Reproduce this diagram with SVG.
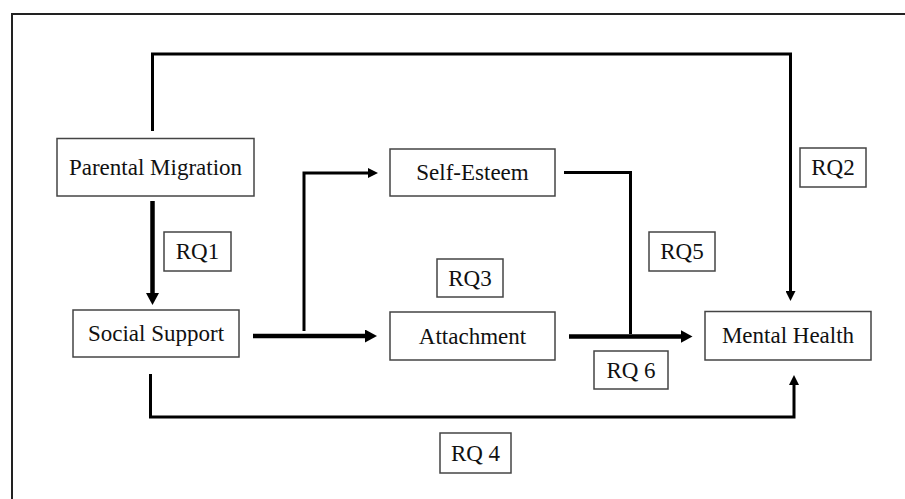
<svg xmlns="http://www.w3.org/2000/svg" width="905" height="499" viewBox="0 0 905 499">
  <style>
    .box { fill: #ffffff; stroke: #444444; stroke-width: 1.5; }
    .lbl { font-family: "Liberation Serif", "Times New Roman", serif; font-size: 23px; fill: #111111; text-anchor: middle; dominant-baseline: central; }
    .ln { fill: none; stroke: #000000; stroke-linejoin: miter; stroke-linecap: butt; }
    .thin { stroke-width: 3; }
    .thick { stroke-width: 4.5; }
    .frame { fill: none; stroke: #222222; stroke-width: 2; }
  </style>
  <defs>
    <marker id="arrS" viewBox="0 0 10 10" refX="1" refY="5" markerWidth="10" markerHeight="10" markerUnits="userSpaceOnUse" orient="auto">
      <path d="M0,0 L10,5 L0,10 z" fill="#000"/>
    </marker>
    <marker id="arrL" viewBox="0 0 12 13" refX="1" refY="6.5" markerWidth="12" markerHeight="13" markerUnits="userSpaceOnUse" orient="auto">
      <path d="M0,0 L12,6.5 L0,13 z" fill="#000"/>
    </marker>
  </defs>
  <rect width="905" height="499" fill="#ffffff"/>
  <path class="frame" d="M12,499 V14 H905"/>

  <g id="connectors">
    <path class="ln thin" d="M152.5,131 V54 H790.5 V292" marker-end="url(#arrS)"/>
    <path class="ln thick" d="M152.5,201 V294" marker-end="url(#arrL)"/>
    <path class="ln thick" d="M253,336 H366" marker-end="url(#arrL)"/>
    <path class="ln thin" d="M304,331 V173 H369" marker-end="url(#arrS)"/>
    <path class="ln thin" d="M564,172.5 H630.5 V334"/>
    <path class="ln thick" d="M569,336.5 H681.5" marker-end="url(#arrL)"/>
    <path class="ln thin" d="M150.5,374 V417 H794 V384" marker-end="url(#arrS)"/>
  </g>

  <g id="parental-migration">
    <rect class="box" x="57" y="138.5" width="197" height="57.5"/>
    <text class="lbl" x="155.5" y="167.5">Parental Migration</text>
  </g>
  <g id="self-esteem">
    <rect class="box" x="390" y="149" width="165" height="47"/>
    <text class="lbl" x="472.5" y="172.5">Self-Esteem</text>
  </g>
  <g id="social-support">
    <rect class="box" x="73" y="310" width="166" height="47"/>
    <text class="lbl" x="156" y="333.5">Social Support</text>
  </g>
  <g id="attachment">
    <rect class="box" x="390" y="312" width="165" height="48"/>
    <text class="lbl" x="472.5" y="336">Attachment</text>
  </g>
  <g id="mental-health">
    <rect class="box" x="705" y="311.5" width="166" height="48.5"/>
    <text class="lbl" x="788" y="335.5">Mental Health</text>
  </g>

  <g id="rq1">
    <rect class="box" x="164" y="232" width="67" height="39"/>
    <text class="lbl" x="197.5" y="251.5">RQ1</text>
  </g>
  <g id="rq2">
    <rect class="box" x="800" y="148" width="66" height="39"/>
    <text class="lbl" x="833" y="167.5">RQ2</text>
  </g>
  <g id="rq3">
    <rect class="box" x="437" y="259" width="66" height="38"/>
    <text class="lbl" x="470" y="278">RQ3</text>
  </g>
  <g id="rq5">
    <rect class="box" x="649" y="232" width="66" height="39"/>
    <text class="lbl" x="682" y="251.5">RQ5</text>
  </g>
  <g id="rq6">
    <rect class="box" x="594" y="351" width="74" height="38"/>
    <text class="lbl" x="631" y="370">RQ 6</text>
  </g>
  <g id="rq4">
    <rect class="box" x="440" y="433" width="71" height="40"/>
    <text class="lbl" x="475.5" y="453">RQ 4</text>
  </g>
</svg>
